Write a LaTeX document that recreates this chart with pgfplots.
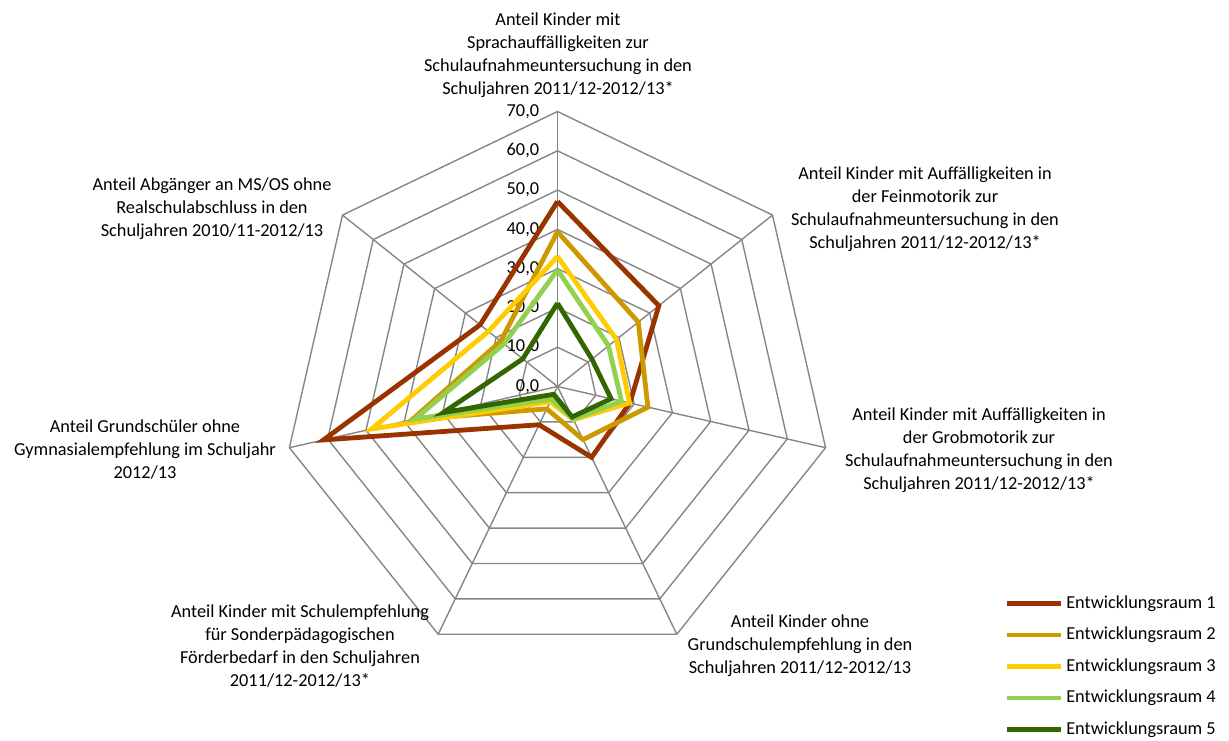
\documentclass[border=0pt]{standalone}
\usepackage{fontspec}
\setmainfont{Carlito}
\usepackage{pgfplots}
\pgfplotsset{compat=1.18}
\usepgfplotslibrary{polar}
\definecolor{gridc}{HTML}{868686}
\definecolor{erA}{HTML}{993300}
\definecolor{erB}{HTML}{CC9900}
\definecolor{erC}{HTML}{FFCC00}
\definecolor{erD}{HTML}{92D050}
\definecolor{erE}{HTML}{336600}
\newcommand{\lfont}{\fontsize{9.15pt}{11.5pt}\selectfont}
\begin{document}
\begin{tikzpicture}
\begin{scope}[x=0.5pt,y=-0.5pt]
\path[use as bounding box] (0,0) rectangle (1229,737);
\end{scope}
\begin{polaraxis}[
  scale only axis, width=275pt, height=275pt,
  at={(278.75pt,-193.25pt)}, anchor=center,
  xmin=0, xmax=360, ymin=0, ymax=70,
  axis line style={draw=none}, xtick=\empty, ytick=\empty,
  clip=false,
  every axis plot/.append style={line join=miter},
  legend style={at={(axis description cs:1.312,0.126)}, anchor=north west,
    draw=none, fill=none, inner sep=0pt, font=\lfont, row sep=4.9pt,
    nodes={inner sep=1.5pt, anchor=west}},
  legend image code/.code={\draw[#1] (0pt,0pt) -- (27pt,0pt);},
]
% grid rings
\foreach \r in {10,20,30,40,50,60,70}{
  \edef\tmp{\noexpand\addplot[gridc, line width=0.7pt, forget plot] coordinates {(90,\r) (38.5714,\r) (347.1429,\r) (295.7143,\r) (244.2857,\r) (192.8571,\r) (141.4286,\r) (90,\r)};}
  \tmp
}
% spokes
\foreach \a in {90,38.5714,347.1429,295.7143,244.2857,192.8571,141.4286}{
  \edef\tmp{\noexpand\addplot[gridc, line width=0.7pt, forget plot] coordinates {(\a,0) (\a,70)};}
  \tmp
}
% tick labels
\foreach \v in {0,10,20,30,40,50,60,70}{
  \edef\tmp{\noexpand\node[anchor=east, font=\noexpand\lfont, inner sep=0pt, xshift=-9pt] at (axis cs:90,\v) {\v,0};}
  \tmp
}
\addplot[erA, line width=2.4pt] coordinates {(90,47.1) (38.5714,33.0) (347.1429,18.9) (295.7143,20.0) (244.2857,10.8) (192.8571,61.1) (141.4286,25.2) (90,47.1)};
\addlegendentry{Entwicklungsraum 1}
\addplot[erB, line width=2.4pt] coordinates {(90,39.4) (38.5714,26.3) (347.1429,23.6) (295.7143,15.0) (244.2857,6.3) (192.8571,38.0) (141.4286,18.5) (90,39.4)};
\addlegendentry{Entwicklungsraum 2}
\addplot[erC, line width=2.4pt] coordinates {(90,33.1) (38.5714,19.2) (347.1429,18.8) (295.7143,9.4) (244.2857,4.3) (192.8571,48.5) (141.4286,22.5) (90,33.1)};
\addlegendentry{Entwicklungsraum 3}
\addplot[erD, line width=2.4pt] coordinates {(90,29.7) (38.5714,16.6) (347.1429,16.7) (295.7143,9.2) (244.2857,3.5) (192.8571,37.2) (141.4286,17.4) (90,29.7)};
\addlegendentry{Entwicklungsraum 4}
\addplot[erE, line width=2.4pt] coordinates {(90,21.2) (38.5714,11.2) (347.1429,14.0) (295.7143,8.6) (244.2857,2.2) (192.8571,29.8) (141.4286,11.3) (90,21.2)};
\addlegendentry{Entwicklungsraum 5}
\end{polaraxis}
\begin{scope}[x=0.5pt,y=-0.5pt, every node/.style={font=\lfont, align=center, inner sep=0pt}]
\node at (558,55) {Anteil Kinder mit\\Sprachauffälligkeiten zur\\Schulaufnahmeuntersuchung in den\\Schuljahren 2011/12-2012/13*};
\node at (925,209) {Anteil Kinder mit Auffälligkeiten in\\der Feinmotorik zur\\Schulaufnahmeuntersuchung in den\\Schuljahren 2011/12-2012/13*};
\node at (979,450) {Anteil Kinder mit Auffälligkeiten in\\der Grobmotorik zur\\Schulaufnahmeuntersuchung in den\\Schuljahren 2011/12-2012/13*};
\node at (800,646) {Anteil Kinder ohne\\Grundschulempfehlung in den\\Schuljahren 2011/12-2012/13};
\node at (300,646.5) {Anteil Kinder mit Schulempfehlung\\für Sonderpädagogischen\\Förderbedarf in den Schuljahren\\2011/12-2012/13*};
\node at (145,449.5) {Anteil Grundschüler ohne\\Gymnasialempfehlung im Schuljahr\\2012/13};
\node at (212,208.5) {Anteil Abgänger an MS/OS ohne\\Realschulabschluss in den\\Schuljahren 2010/11-2012/13};
\end{scope}
\end{tikzpicture}
\end{document}
